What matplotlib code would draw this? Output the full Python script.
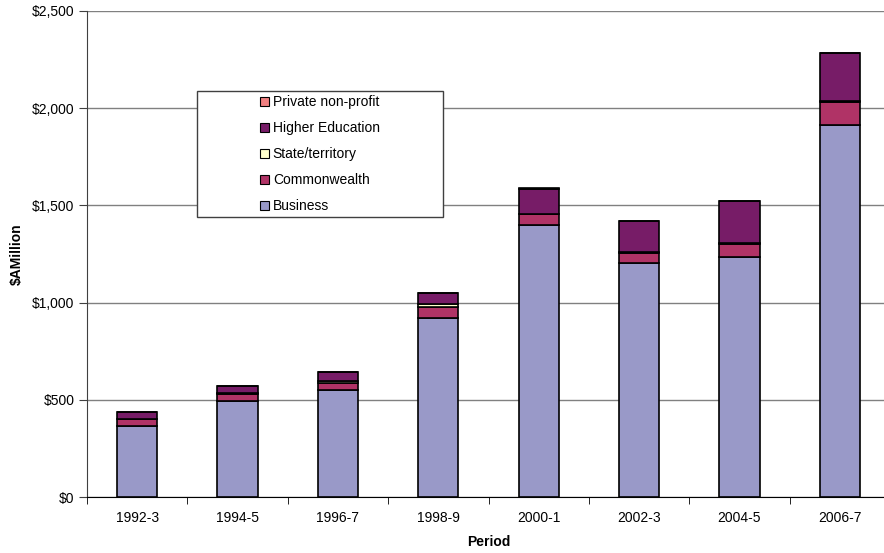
import numpy as np
import matplotlib.pyplot as plt
from matplotlib.ticker import FuncFormatter
from matplotlib.patches import Patch, Rectangle

plt.rcParams['font.family'] = ['Liberation Sans', 'DejaVu Sans']

periods = ['1992-3', '1994-5', '1996-7', '1998-9', '2000-1', '2002-3', '2004-5', '2006-7']
business = [367, 494, 549, 922, 1401, 1202, 1236, 1914]
commonwealth = [33, 36, 37, 54, 53, 55, 67, 119]
state = [3, 3, 9, 15, 2, 2, 2, 2]
higher_ed = [35, 38, 48, 57, 130, 159, 216, 249]
private_np = [1, 1, 1, 1, 1, 1, 1, 1]

series = [('Business', business, '#9999C8'),
          ('Commonwealth', commonwealth, '#B03366'),
          ('State/territory', state, '#FFFFCC'),
          ('Higher Education', higher_ed, '#771C67'),
          ('Private non-profit', private_np, '#F07F80')]

W, H = 884, 553
fig = plt.figure(figsize=(W / 100, H / 100), dpi=100)
ax = fig.add_axes([87/W, 56/H, 803/W, 486/H])

x = np.arange(len(periods))
bottom = np.zeros(len(periods))
for name, vals, col in series:
    ax.bar(x, vals, 0.4, bottom=bottom, color=col, edgecolor='black', linewidth=1.2, zorder=3)
    bottom += np.array(vals)

ax.set_xlim(-0.5, len(periods) - 0.5)
ax.set_ylim(0, 2500)
ax.set_yticks(range(0, 2501, 500))
ax.yaxis.set_major_formatter(FuncFormatter(lambda v, p: '${:,.0f}'.format(v)))
ax.yaxis.grid(True, color='#808080', linewidth=1, zorder=0)
ax.set_xticks(x)
ax.set_xticklabels(periods)
ax.set_xticks(np.arange(-0.5, len(periods)), minor=True)
ax.tick_params(axis='x', which='major', length=0, pad=10, labelsize=10)
ax.tick_params(axis='x', which='minor', length=5, color='black')
ax.tick_params(axis='y', length=6, labelsize=10, color='#404040', pad=3)

for s in ['top', 'right']:
    ax.spines[s].set_visible(False)
ax.spines['left'].set_color('#404040')
ax.spines['bottom'].set_color('black')

ax.set_xlabel('Period', fontsize=10, fontweight='bold', labelpad=7)
ax.set_ylabel('$AMillion', fontsize=10, fontweight='bold', labelpad=6)

# legend box
box = Rectangle((197/W, 1 - 217/H), 246/W, 126/H, transform=fig.transFigure,
                facecolor='white', edgecolor='#404040', linewidth=1, zorder=4, clip_on=False)
ax.add_patch(box)

handles = [Patch(facecolor=c, edgecolor='black', linewidth=0.8, label=n) for n, v, c in series[::-1]]
leg = ax.legend(handles=handles, loc='upper left', bbox_to_anchor=(260/W, 1 - 95/H),
                bbox_transform=fig.transFigure, frameon=False, fontsize=10,
                handlelength=0.62, handleheight=0.62, handletextpad=0.3, labelspacing=0.87,
                borderpad=0, borderaxespad=0)
leg.set_zorder(5)

fig.savefig('out.png', dpi=100)
